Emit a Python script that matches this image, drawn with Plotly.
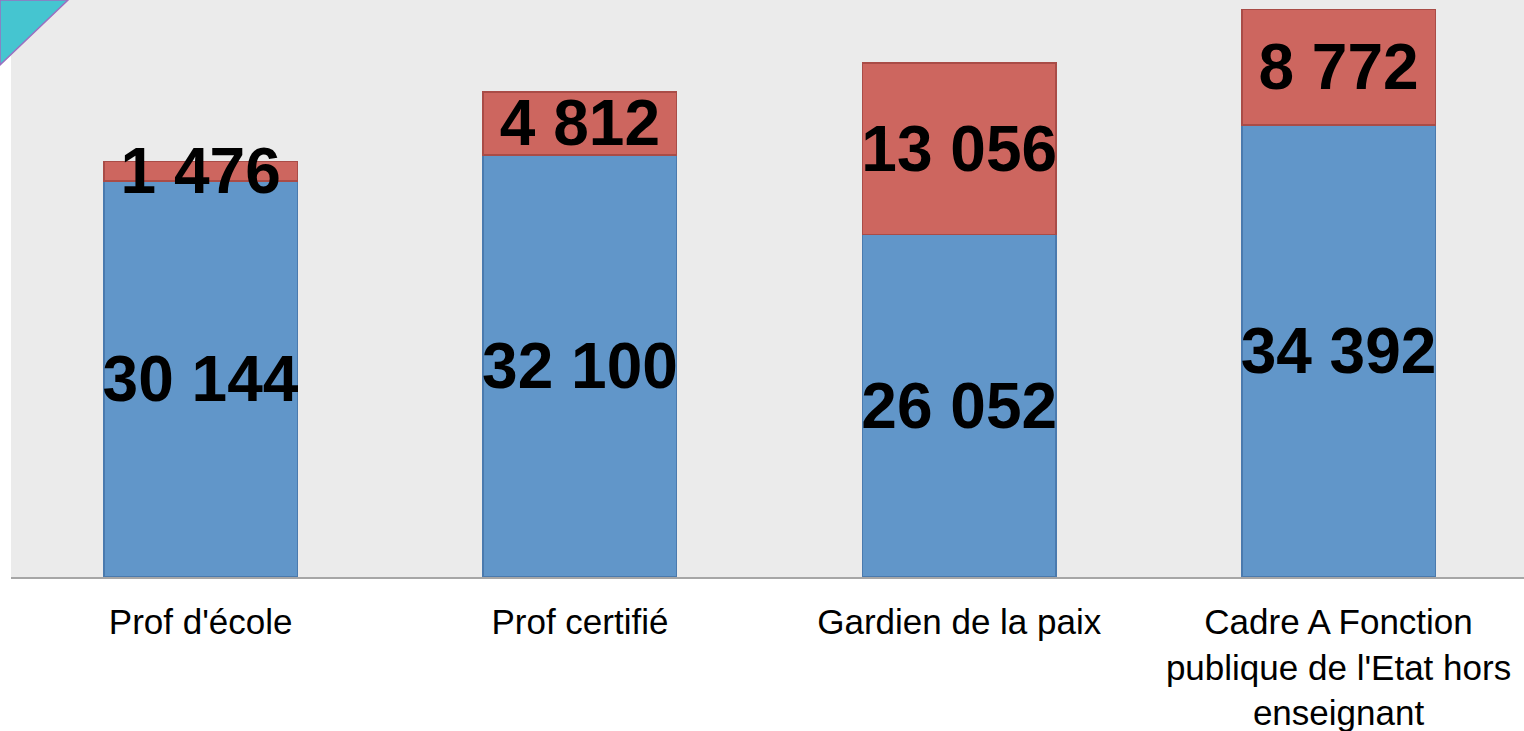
import plotly.graph_objects as go

categories = ["Prof d'école", "Prof certifié", "Gardien de la paix",
              "Cadre A Fonction<br>publique de l'Etat hors<br>enseignant"]
base_values = [30144, 32100, 26052, 34392]
extra_values = [1476, 4812, 13056, 8772]


def fmt(v):
    return f"{v:,}".replace(",", " ")


label_font = dict(family="Liberation Sans, Arial", size=64, color="black", weight="bold")

fig = go.Figure()
fig.add_trace(go.Bar(
    x=categories, y=base_values, text=[fmt(v) for v in base_values],
    marker=dict(color="#6196C9", line=dict(color="#4A7AAE", width=1.5)),
    textposition="inside", insidetextanchor="middle", textangle=0,
    constraintext="none", textfont=label_font, hoverinfo="x+y",
))
fig.add_trace(go.Bar(
    x=categories, y=extra_values, text=[fmt(v) for v in extra_values],
    marker=dict(color="#CD665F", line=dict(color="#A94C47", width=1.5)),
    textposition="inside", insidetextanchor="middle", textangle=0,
    constraintext="none", textfont=label_font, hoverinfo="x+y",
))

# decorative corner triangle
fig.add_shape(type="path", xref="paper", yref="paper",
              path="M -0.00727 1 L 0.0377 1 L -0.00727 0.8873 Z",
              fillcolor="#45C5D0", line=dict(color="#9B6FC0", width=1.5), layer="above")

fig.update_layout(
    width=1524, height=731,
    margin=dict(l=11, r=0, t=0, b=154, autoexpand=False),
    paper_bgcolor="white", plot_bgcolor="#EBEBEB",
    barmode="stack", bargap=0.49,
    showlegend=False,
    font=dict(family="Liberation Sans, Arial", color="black"),
)
fig.update_xaxes(range=[-0.5, 3.489], showline=True, linecolor="#A6A6A6", linewidth=2,
                 tickfont=dict(size=35, color="black"), ticks="", ticklabelstandoff=13,
                 showgrid=False)
fig.update_yaxes(range=[0, 43900], visible=False, showgrid=False)

fig.write_html("out.html", config={"displayModeBar": False},
               post_script="document.body.style.margin='0';document.body.style.overflow='hidden';")
